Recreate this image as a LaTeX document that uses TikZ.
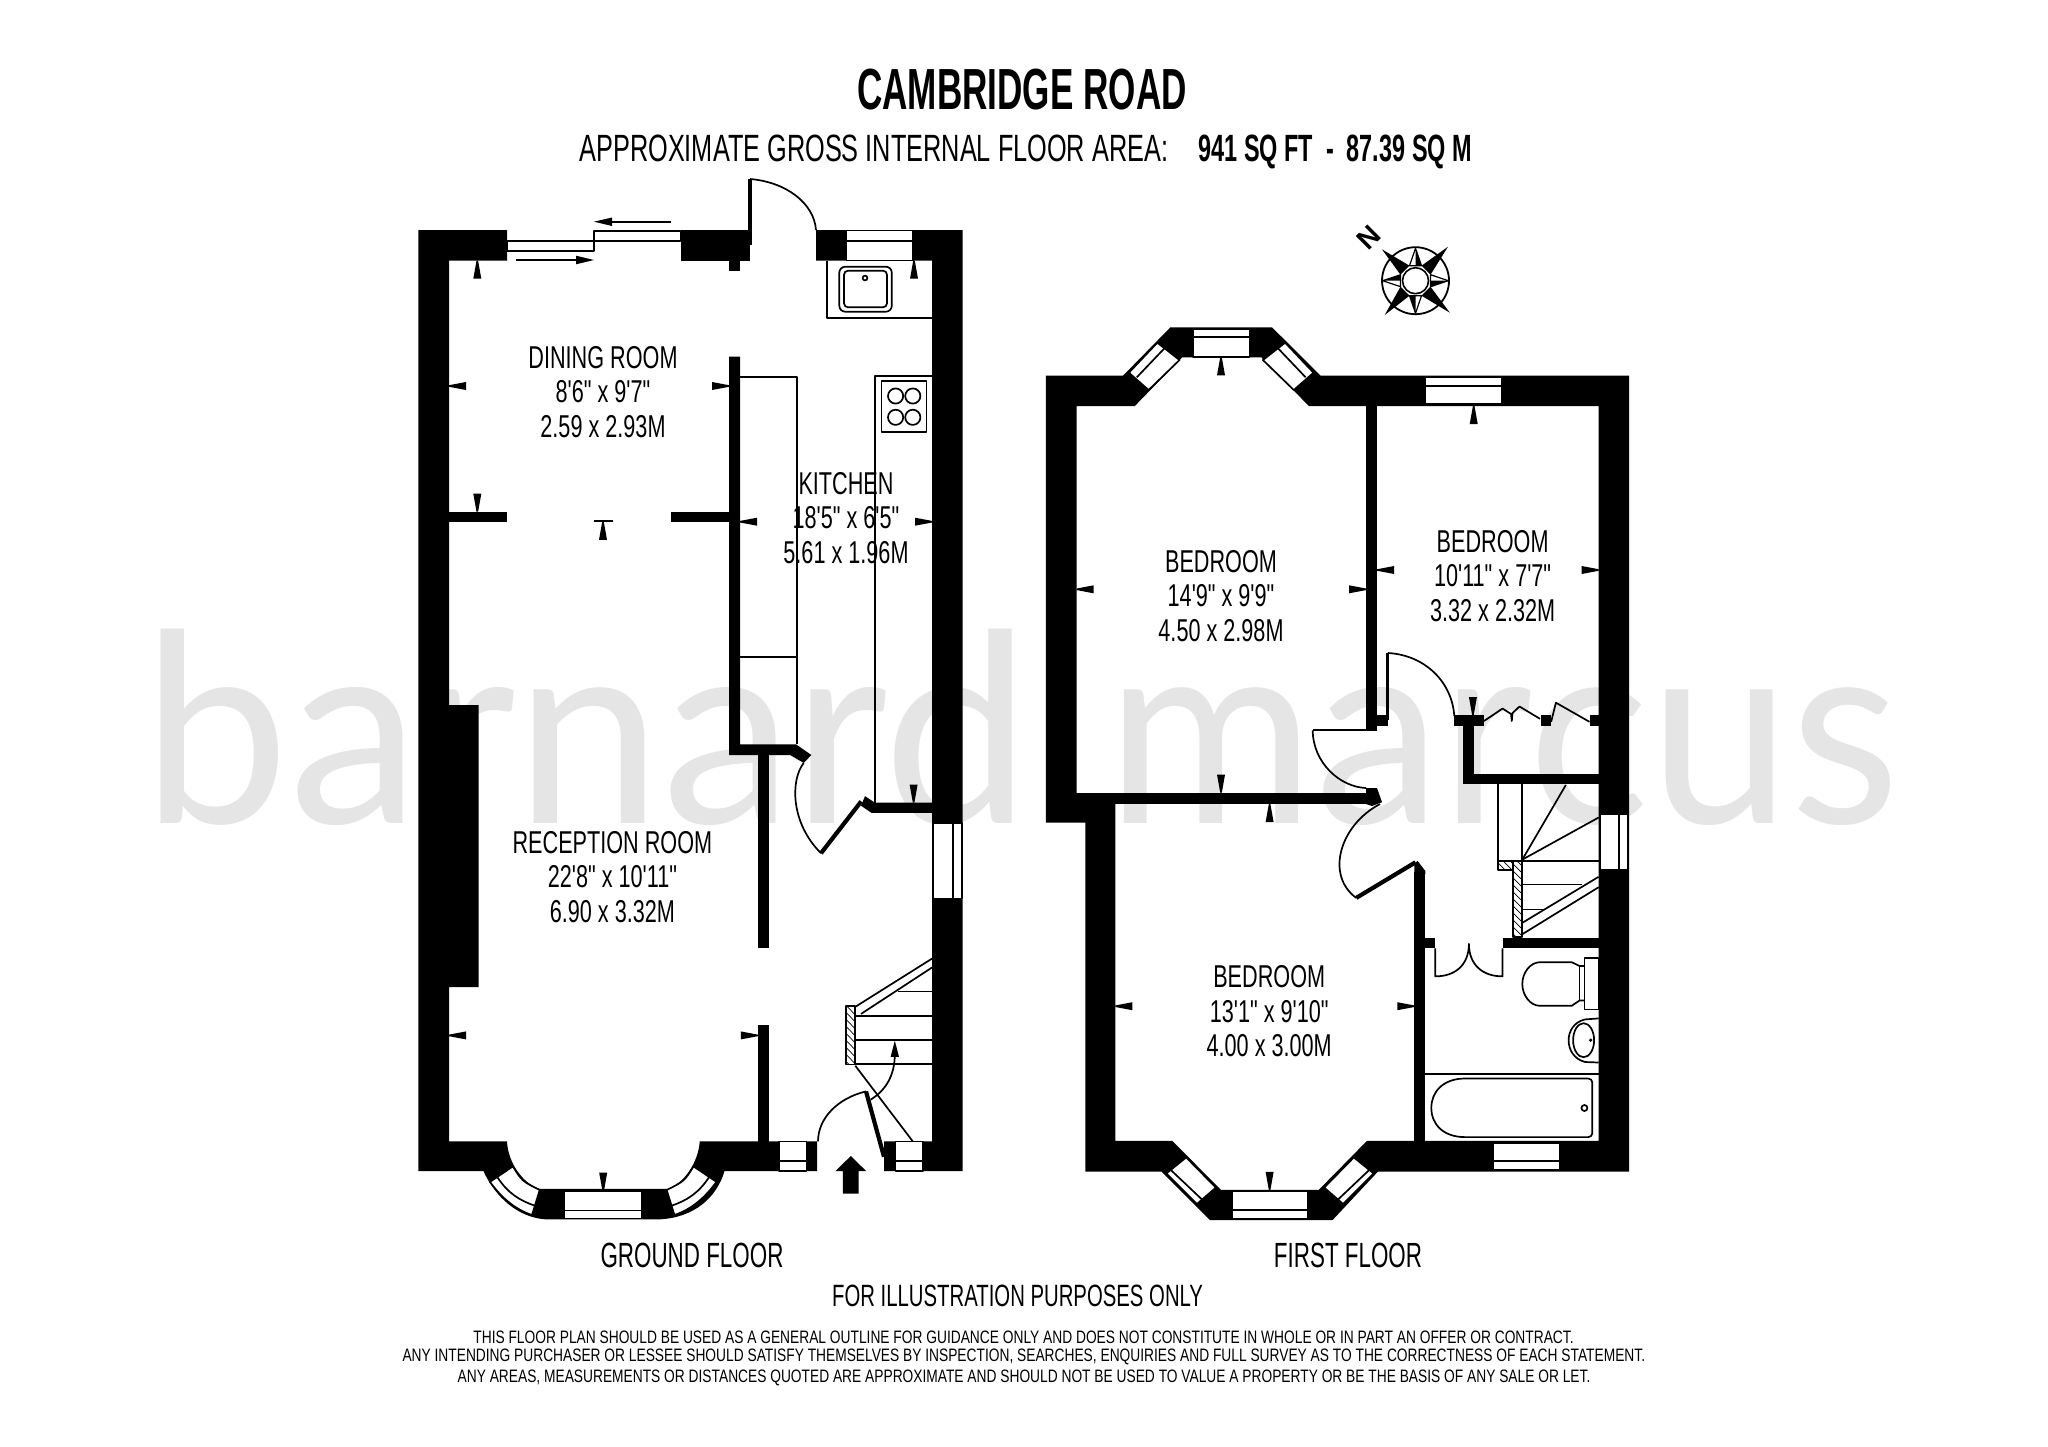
\documentclass[tikz,border=0pt]{standalone}
\usepackage{fontspec}
\newfontfamily\condroom{Liberation Sans}[FakeStretch=0.685]
\newfontfamily\condplab{Liberation Sans}[FakeStretch=0.64]
\newfontfamily\condill{Liberation Sans}[FakeStretch=0.66]
\newfontfamily\condfoot{Liberation Sans}[FakeStretch=0.765]
\newfontfamily\condsub{Liberation Sans}[FakeStretch=0.666]
\newfontfamily\condsubb{Liberation Sans Bold}[FakeStretch=0.617]
\newfontfamily\condtitle{Liberation Sans Bold}[FakeStretch=0.605]
\newfontfamily\northfont{Liberation Sans Bold}
\newfontfamily\wmfonta{Lato}[FakeStretch=0.995]
\newfontfamily\wmfontb{Lato}[FakeStretch=0.96]
\newcommand{\tickU}[2]{\fill (#1-0.8,#2) -- (#1+0.8,#2) -- (#1+4,#2+18) -- (#1-4,#2+18) -- cycle;}
\newcommand{\tickD}[2]{\fill (#1-0.8,#2) -- (#1+0.8,#2) -- (#1+4,#2-18) -- (#1-4,#2-18) -- cycle;}
\newcommand{\tickL}[2]{\fill (#1,#2-0.8) -- (#1,#2+0.8) -- (#1+17,#2+4) -- (#1+17,#2-4) -- cycle;}
\newcommand{\tickR}[2]{\fill (#1,#2-0.8) -- (#1,#2+0.8) -- (#1-17,#2+4) -- (#1-17,#2-4) -- cycle;}
\newcommand{\winrect}[4]{\filldraw[fill=white,draw=black,thinline] (#1,#2) rectangle (#3,#4);}
\tikzset{
  thinline/.style={line width=0.85pt,draw=black},
  leaf/.style={line width=2.1pt,draw=black},
  room/.style={font=\condroom\fontsize{15.8}{17.2}\selectfont,align=center,inner sep=0pt},
  plabel/.style={font=\condplab\fontsize{17.5}{20}\selectfont,inner sep=0pt},
  illabel/.style={font=\condill\fontsize{15.4}{20}\selectfont,inner sep=0pt},
  small/.style={font=\condfoot\fontsize{9}{10}\selectfont,inner sep=0pt},
  wmark/.style={anchor=base west,inner sep=0pt,text=black!10},
}
\begin{document}
\begin{tikzpicture}[x=0.5pt,y=-0.5pt,line join=round]
\useasboundingbox (0,0) rectangle (2048,1446);
\fill[white] (0,0) rectangle (2048,1446);
% watermark
\node[wmark,font=\wmfonta\fontsize{132}{132}\selectfont] (wma) at (142,823) {barnard};
\node[wmark,font=\wmfontb\fontsize{132}{132}\selectfont] (wmb) at (1106,823) {marcus};
% titles
\node[inner sep=0pt,font=\condtitle\fontsize{29}{29}\selectfont] (title) at (1022,90) {CAMBRIDGE ROAD};
\node[anchor=base west,inner sep=0pt,font=\condsub\fontsize{19}{19}\selectfont] (sub1) at (579,161.5) {APPROXIMATE GROSS INTERNAL FLOOR AREA:};
\node[anchor=base west,inner sep=0pt,font=\condsubb\fontsize{19}{19}\selectfont] (sub2) at (1198,161.5) {941 SQ FT\ \ -\ \ 87.39 SQ M};
% ---------- GROUND FLOOR walls
\fill (507,230) -- (418.4,230) -- (418.4,1171) -- (483.4,1171)
  .. controls (495.7,1197.9) and (518.6,1217.5) .. (545.4,1219.3) -- (660,1219.3)
  .. controls (693.8,1217.5) and (716.7,1197.9) .. (724.5,1171) -- (817,1171) -- (817,1141.4) -- (699.7,1141.4)
  .. controls (698.5,1162.1) and (683.9,1183.6) .. (668,1188.9) -- (539.7,1188.9)
  .. controls (522.5,1183.6) and (507.9,1162.1) .. (507,1141.4) -- (449,1141.4) -- (449,987.1) -- (478.5,987.1) -- (478.5,705) -- (449,705) -- (449,260.7) -- (507,260.7) -- cycle;
\fill (680.5,230) rectangle (750,260.7);
\fill (729,260.7) rectangle (740,270.7);
\fill (816,230) -- (962.6,230) -- (962.6,1171) -- (884,1171) -- (884,1141.4) -- (932,1141.4) -- (932,260.7) -- (816,260.7) -- cycle;
\fill (449,511.7) rectangle (507,522.3);
\fill (671,511.7) rectangle (735,522.3);
\fill (729,356.7) -- (740,356.7) -- (740,744.3) -- (796,744.3) -- (811.4,755) -- (803.7,762.9) -- (790,755) -- (729,755) -- cycle;
\fill (757.8,750) rectangle (768.5,947.9);
\fill (757.8,1024.6) rectangle (768.5,1145);
\fill (865,796.1) -- (874.6,802.5) -- (934,802.5) -- (934,812.9) -- (871.5,812.9) -- (861,805.7) -- cycle;
% sliding door
\filldraw[fill=white,thinline] (507,240.7) rectangle (594,250.7);
\filldraw[fill=white,thinline] (594,230.7) rectangle (680.5,240.7);
\draw[thinline] (594,230.7) -- (594,250.7);
\draw[thinline] (671,221.7) -- (605,221.7);
\fill (594,221.7) -- (612,217.5) -- (612,226) -- cycle;
\draw[thinline] (516,260) -- (580,260);
\fill (594,260) -- (576,255.7) -- (576,264.3) -- cycle;
% back door
\draw[leaf] (750,179) -- (750,245);
\draw[thinline] (750,179) .. controls (786,182) and (814,203) .. (816,230);
% rear kitchen window
\winrect{846.6}{230.5}{913}{260.4}
\draw[thinline] (846.6,240.7) -- (913,240.7);
% sink unit
\draw[thinline] (826.7,260.7) -- (826.7,318.3) -- (932,318.3);
\draw[thinline,rounded corners=3pt] (839.3,266.7) rectangle (891.8,311.7);
\draw[thinline,rounded corners=2pt] (844,270.7) rectangle (887,307.3);
\draw[thinline] (865,278) circle[radius=2.4];
% worktops
\draw[thinline] (740,376.7) -- (797,376.7) -- (797,744.3);
\draw[thinline] (740,657) -- (797,657);
\draw[thinline] (932,376) -- (875.3,376) -- (875.3,802.5);
\draw[thinline] (881.4,381) rectangle (926.6,432.3);
\foreach \cx/\cy in {895.6/396,912.8/396,895.6/417.3,912.8/417.3} \draw[thinline] (\cx,\cy) circle[radius=7.6];
% door to hall
\draw[leaf] (821,853.2) -- (861.2,801.4);
\draw[thinline] (803.7,762.9) .. controls (790.4,780) and (790.4,822.9) .. (821,853.2);
% side window
\winrect{933}{822.9}{962}{898.6}
\draw[thinline] (953,822.9) -- (953,898.6);
% ground windows at front
\winrect{778.9}{1141.4}{806.4}{1171}
\draw[thinline] (778.9,1161) -- (806.4,1161);
\winrect{895.6}{1141.4}{923}{1171}
\draw[thinline] (895.6,1161) -- (923,1161);
% bay windows
\winrect{564.6}{1190.7}{641.9}{1218.6}
\draw[thinline] (564.6,1210.4) -- (641.9,1210.4);
\begin{scope}[shift={(1206.4,0)},xscale=-1]
\filldraw[fill=white,thinline] (512.9,1166.4) .. controls (522,1181.1) .. (539.7,1190) -- (532,1215) .. controls (514,1209.1) and (500,1196) .. (490,1181.8) -- cycle;
\draw[thinline] (497.6,1177.5) .. controls (508,1193.3) and (520,1200.7) .. (535,1205.7);
\end{scope}
\filldraw[fill=white,thinline] (512.9,1166.4) .. controls (522,1181.1) .. (539.7,1190) -- (532,1215) .. controls (514,1209.1) and (500,1196) .. (490,1181.8) -- cycle;
\draw[thinline] (497.6,1177.5) .. controls (508,1193.3) and (520,1200.7) .. (535,1205.7);
% front door
\draw[leaf] (884,1156.8) -- (866,1091.4);
\draw[thinline] (866,1091.4) .. controls (838,1098) and (818,1118) .. (818,1141.4);
% entry arrow
\fill (850.8,1156) -- (866.1,1171) -- (858.5,1171) -- (858.5,1193.6) -- (842.8,1193.6) -- (842.8,1171) -- (835.5,1171) -- cycle;
% ground stairs
\begin{scope}
\clip (845.8,1006.1) rectangle (855.3,1064.6);
\foreach \k in {0,7,...,77} \draw[line width=0.35pt] (845.8,998+\k) -- (855.3,1008+\k);
\end{scope}
\draw[thinline] (845.8,1006.1) rectangle (855.3,1064.6);
\draw[thinline] (855.3,1006.8) -- (932,958.6);
\draw[thinline] (861,1013.9) -- (932,967.5);
\draw[thinline] (897.5,991.4) -- (932,991.4);
\draw[thinline] (855.3,1015.7) -- (932,1015.7);
\draw[thinline] (855.3,1040) -- (932,1040);
\draw[thinline] (855.3,1063.9) -- (932,1063.9);
\draw[thinline] (855.3,1065.7) -- (912.8,1141.4);
\draw[thinline] (870.7,1099.6) .. controls (885,1090.7) and (894.8,1076.4) .. (894.8,1054);
\fill (894.8,1040.7) -- (899,1056.8) -- (890.6,1056.8) -- cycle;
% ticks ground
\tickU{477.3}{260.7}\tickU{914}{260.7}\tickL{449}{386}\tickR{729}{386}
\tickD{477.3}{511.7}\tickU{603}{521.8}\draw[thinline] (594,521.3) -- (613,521.3);
\tickL{740}{521.7}\tickR{932}{521.7}\tickD{913.6}{802.5}\tickL{449}{1035.4}\tickR{757.8}{1035.4}\tickD{603.2}{1190.7}
% ---------- FIRST FLOOR walls
\fill[even odd rule]
 (1045.8,375.7) -- (1123,375.7) -- (1170.4,327.3) -- (1272,327.3) -- (1320.6,375.7) -- (1629,375.7) -- (1629,1171.5) -- (1378,1171.5) -- (1332.5,1220.1) -- (1209.9,1220.1) -- (1161.3,1171.5) -- (1085.4,1171.5) -- (1085.4,822.5) -- (1045.8,822.5) -- cycle
 (1076.7,406) -- (1134.8,406) -- (1182.2,357.3) -- (1261.3,357.3) -- (1308.8,406) -- (1598.6,406) -- (1598.6,1140.9) -- (1366.9,1140.9) -- (1318.7,1189.9) -- (1221,1189.9) -- (1172.3,1140.9) -- (1115.4,1140.9) -- (1115.4,798) -- (1076.7,798) -- cycle;
\fill (1070,792.6) rectangle (1372,804.1);
\fill (1366,788) -- (1377,788) -- (1382,802.2) -- (1372,806) -- (1366,804) -- cycle;
\fill (1366,404) rectangle (1377.2,731.4);
\fill (1377.2,715) rectangle (1387.9,725.7);
\fill (1312.7,729) rectangle (1372,731.4);
\fill (1414.3,872) rectangle (1425.4,1142);
\fill (1417.5,860.8) -- (1425.4,871.1) -- (1425.4,874) -- (1414.3,874) -- (1414.3,864) -- cycle;
\fill (1414.3,938) rectangle (1435.3,948.4);
\fill (1502.5,938) rectangle (1600,948.4);
\fill (1454,715) rectangle (1484,725.7);
\fill (1463,715) rectangle (1473.7,783.8);
\fill (1463,773.5) rectangle (1600,783.8);
\fill (1540.9,715) rectangle (1551.1,725.7);
\fill (1589.5,715) rectangle (1600,725.7);
% first-floor windows
\winrect{1192.9}{329}{1249.5}{356.7}
\draw[thinline] (1192.9,337.3) -- (1249.5,337.3);
\winrect{1425.4}{377.3}{1501.7}{404.3}
\draw[thinline] (1425.4,385.7) -- (1501.7,385.7);
\filldraw[fill=white,thinline] (1128.9,372.7) -- (1157.3,342.7) -- (1179.5,360) -- (1148.6,390) -- cycle;
\draw[thinline] (1136.8,377.3) -- (1164.4,348.3);
\filldraw[fill=white,thinline] (1313.5,372.7) -- (1285.1,342.7) -- (1262.9,360) -- (1293.8,390) -- cycle;
\draw[thinline] (1305.6,377.3) -- (1278,348.3);
\winrect{1231.7}{1191.4}{1308}{1218.6}
\draw[thinline] (1231.7,1209.8) -- (1308,1209.8);
\winrect{1493.4}{1142.8}{1559.9}{1169.6}
\draw[thinline] (1493.4,1161.2) -- (1559.9,1161.2);
\filldraw[fill=white,thinline] (1166.4,1173.4) -- (1196.9,1204) -- (1215.8,1187.6) -- (1186.2,1157.4) -- cycle;
\draw[thinline] (1170.4,1169.6) -- (1202,1199.5);
\filldraw[fill=white,thinline] (1373.6,1173.4) -- (1343.1,1204) -- (1324.2,1187.6) -- (1353.8,1157.4) -- cycle;
\draw[thinline] (1369.6,1169.6) -- (1338,1199.5);
\winrect{1600.6}{813.7}{1627.9}{870}
\draw[thinline] (1619,813.7) -- (1619,870);
% first-floor doors
\draw[line width=1.5pt] (1387.9,653) -- (1387.9,720);
\draw[thinline] (1387.9,653) .. controls (1425,655) and (1452,682) .. (1454.3,716);
\draw[thinline] (1312.7,730.3) .. controls (1313,763) and (1340,787) .. (1366,788);
\draw[leaf] (1356.2,897.9) -- (1415.5,862.3);
\draw[thinline] (1380,804) .. controls (1340,825) and (1325,875) .. (1356.2,897.9);
% cupboard bi-folds
\draw[thinline] (1483.9,721) .. controls (1490,717) .. (1502.5,708.5) -- (1511,714) .. controls (1511.6,719) .. (1511.8,721) .. controls (1512,717) .. (1512.5,713) -- (1519.5,706.5) -- (1540,718.8);
\draw[thinline] (1551.1,721.8) .. controls (1553,712) .. (1555.9,702.7) -- (1589.5,721.8);
% bathroom cupboard doors
\draw[thinline] (1435.3,948.4) -- (1435.3,976.3) .. controls (1455,976.5) and (1468.9,965) .. (1468.9,943.8) .. controls (1468.9,965) and (1483,976.5) .. (1502.5,976.3) -- (1502.5,948.4);
% first-floor stairs
\draw[thinline] (1497.8,783.8) -- (1497.8,860.8);
\draw[thinline] (1522.3,783.8) -- (1522.3,860.8);
\draw[thinline] (1522.3,859.6) -- (1565.8,785);
\draw[thinline] (1522.3,859.6) -- (1598.6,817.5);
\draw[thinline] (1497.8,860.8) -- (1598.6,860.8);
\begin{scope}
\clip (1513.2,860.8) rectangle (1522.3,936.9) (1497.8,860.8) rectangle (1513.2,870.3);
\foreach \k in {-20,-13,...,90} \draw[line width=0.35pt] (1495,852+\k) -- (1525,882+\k);
\end{scope}
\draw[thinline] (1497.8,860.8) rectangle (1513.2,870.3);
\draw[thinline] (1513.2,860.8) rectangle (1522.3,936.9);
\draw[thinline] (1522.3,884.5) -- (1581.6,884.5);
\draw[thinline] (1522.3,909.4) -- (1544,909.4);
\draw[thinline] (1522.3,922.8) -- (1598.6,876.8);
\draw[thinline] (1522.3,934.2) -- (1598.6,887.2);
% bathroom fittings
\draw[thinline] (1425.4,1073.9) -- (1598.6,1073.9);
\draw[thinline,rounded corners=2pt] (1465,1078.5) -- (1592.3,1078.5) -- (1592.3,1137.1) -- (1465,1137.1);
\draw[thinline] (1465,1137.1) .. controls (1443,1137.1) and (1431.3,1124) .. (1431.3,1107.8) .. controls (1431.3,1092) and (1443,1078.5) .. (1465,1078.5);
\draw[thinline] (1584.4,1108) circle[radius=3];
\draw[thinline] (1598.6,1018.4) -- (1585,1019.4) .. controls (1574,1022) and (1568.6,1031) .. (1568.6,1040.2) .. controls (1568.6,1050) and (1574,1059) .. (1585,1062) -- (1598.6,1062.5);
\draw[thinline] (1583.6,1040.2) ellipse[x radius=10.5,y radius=17];
\fill (1590.7,1040.2) circle[radius=1.8];
\draw[thinline] (1584.4,958) rectangle (1598.6,1009.6);
\draw[thinline] (1584.4,966) -- (1579.6,966) .. controls (1576,965) .. (1571.7,962.2) -- (1540,962.2) .. controls (1530,962.2) and (1522.3,973) .. (1522.3,984) .. controls (1522.3,995) and (1530,1005.8) .. (1540,1005.8) -- (1571.7,1005.8) .. controls (1576,1003.5) .. (1579.6,1000.4) -- (1584.4,1000.4);
\draw[thinline] (1579.6,966) -- (1579.6,1000.4);
% ticks first floor
\tickU{1221}{357.3}\tickU{1473.7}{406}\tickL{1076.7}{589.3}\tickR{1366}{589.3}
\tickL{1377.2}{570}\tickR{1598.6}{570}\tickD{1221}{792.6}\tickU{1269.6}{804.1}
\tickL{1115.4}{1006.2}\tickR{1414.3}{1006.2}\tickD{1269.6}{1189.9}\tickD{1472.9}{715}
% compass
\draw[line width=0.9pt] (1415.5,280.7) circle[radius=33.5];
\fill (1381.9,249.3) -- (1409.5,265.7) -- (1400.5,274.7) -- cycle;
\fill (1448,246.7) -- (1430.5,274.7) -- (1421.5,265.7) -- cycle;
\fill (1449.8,312.7) -- (1421.5,295.7) -- (1430.5,286.7) -- cycle;
\fill (1384.7,315) -- (1400.5,286.7) -- (1409.5,295.7) -- cycle;
\foreach \tx/\ty/\ax/\ay/\bx/\by in {1415.5/248.3/1409.5/265.7/1421.5/265.7, 1448.3/280.7/1430.5/274.7/1430.5/286.7, 1415.5/313.3/1421.5/295.7/1409.5/295.7, 1382.7/280.7/1400.5/286.7/1400.5/274.7}{
  \filldraw[fill=white,line width=0.6pt] (\tx,\ty) -- (\ax,\ay) -- (\bx,\by) -- cycle;
  \fill (\tx,\ty) -- (\bx,\by) -- ({(\ax+\bx)/2},{(\ay+\by)/2}) -- cycle;
}
\filldraw[fill=white,line width=0.8pt] (1415.5,280.7) circle[radius=13];
\node[inner sep=0pt,rotate=45,font=\northfont\fontsize{14}{14}\selectfont] (north) at (1369.3,237.7) {N};
% room labels
\node[room] (dining) at (603,392) {DINING ROOM\\8'6" x 9'7"\\2.59 x 2.93M};
\node[room] (kitchen) at (846,518) {KITCHEN\\18'5" x 6'5"\\5.61 x 1.96M};
\node[room] (reception) at (612.4,877) {RECEPTION ROOM\\22'8" x 10'11"\\6.90 x 3.32M};
\node[room] (bed1) at (1221,596) {BEDROOM\\14'9" x 9'9"\\4.50 x 2.98M};
\node[room] (bed2) at (1492.6,576) {BEDROOM\\10'11" x 7'7"\\3.32 x 2.32M};
\node[room] (bed3) at (1269.2,1011.5) {BEDROOM\\13'1" x 9'10"\\4.00 x 3.00M};
\node[plabel] (gf) at (692,1255) {GROUND FLOOR};
\node[plabel] (ff) at (1348,1255) {FIRST FLOOR};
\node[illabel] (illus) at (1017.6,1296) {FOR ILLUSTRATION PURPOSES ONLY};
\node[small] (foot1) at (1023.5,1337.3) {THIS FLOOR PLAN SHOULD BE USED AS A GENERAL OUTLINE FOR GUIDANCE ONLY AND DOES NOT CONSTITUTE IN WHOLE OR IN PART AN OFFER OR CONTRACT.};
\node[small] (foot2) at (1023.8,1357.3) {ANY INTENDING PURCHASER OR LESSEE SHOULD SATISFY THEMSELVES BY INSPECTION, SEARCHES, ENQUIRIES AND FULL SURVEY AS TO THE CORRECTNESS OF EACH STATEMENT.};
\node[small] (foot3) at (1024,1377.7) {ANY AREAS, MEASUREMENTS OR DISTANCES QUOTED ARE APPROXIMATE AND SHOULD NOT BE USED TO VALUE A PROPERTY OR BE THE BASIS OF ANY SALE OR LET.};
\end{tikzpicture}
\end{document}
